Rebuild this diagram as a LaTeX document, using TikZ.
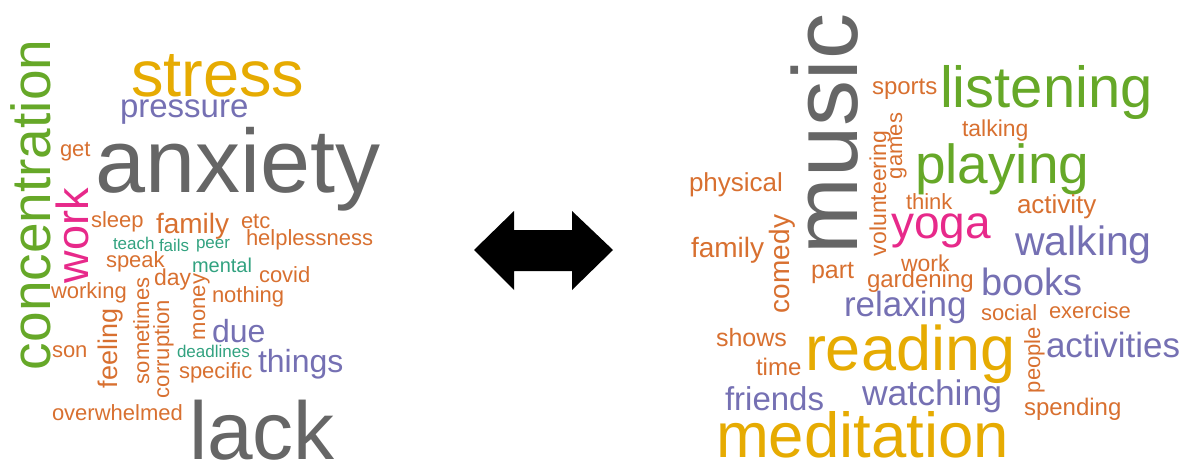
\documentclass[tikz,border=0pt]{standalone}
\usepackage{fontspec}
\setmainfont{Liberation Sans}
\usepackage{xcolor}
\definecolor{mygreen}{RGB}{102,168,40}
\definecolor{myorange}{RGB}{216,112,48}
\definecolor{mypurple}{HTML}{7570B3}
\definecolor{mypink}{HTML}{E7298A}
\definecolor{myteal}{RGB}{50,162,128}
\definecolor{mygold}{HTML}{E6AB02}
\definecolor{mygrey}{HTML}{666666}

\begin{document}
\begin{tikzpicture}[x=1pt,y=-1pt,
  wd/.style={inner sep=0pt, outer sep=0pt, anchor=base west, font=\fontsize{#1}{#1}\selectfont},
  up/.style={rotate=90}]
\useasboundingbox (0,0) rectangle (1198,465);

% left cloud
\node[wd=55, up, mygreen] (concentration) at (50,370) {concentration};
\node[wd=45, up, mypink] (workL) at (88,283) {work};
\node[wd=65, mygold] (stress) at (131,97) {stress};
\node[wd=33, mypurple] (pressure) at (120,118) {pressure};
\node[wd=22, myorange] (get) at (60,157) {get};
\node[wd=90, mygrey] (anxiety) at (95,193) {anxiety};
\node[wd=22, myorange] (sleep) at (91,227) {sleep};
\node[wd=28, myorange] (familyL) at (156,233) {family};
\node[wd=22, myorange] (etc) at (241,228) {etc};
\node[wd=22, myorange] (helplessness) at (246,245) {helplessness};
\node[wd=17, myteal] (teach) at (113,249) {teach};
\node[wd=17, myteal] (fails) at (159,251) {fails};
\node[wd=17, myteal] (peer) at (196,248) {peer};
\node[wd=22, myorange] (speak) at (106,267) {speak};
\node[wd=20, myteal] (mental) at (192,272) {mental};
\node[wd=22, myorange] (covid) at (259,282) {covid};
\node[wd=23, myorange] (day) at (154,285) {day};
\node[wd=22, myorange] (working) at (51,298) {working};
\node[wd=22, myorange] (nothing) at (212,302) {nothing};
\node[wd=22, up, myorange] (money) at (205,340) {money};
\node[wd=22, up, myorange] (sometimes) at (149,384) {sometimes};
\node[wd=27, up, myorange] (feeling) at (117,388) {feeling};
\node[wd=22, up, myorange] (corruption) at (169,398) {corruption};
\node[wd=22, myorange] (son) at (52,357) {son};
\node[wd=32, mypurple] (due) at (212,342) {due};
\node[wd=17, myteal] (deadlines) at (177,357) {deadlines};
\node[wd=32, mypurple] (things) at (258,372) {things};
\node[wd=22, myorange] (specific) at (179,378) {specific};
\node[wd=22, myorange] (overwhelmed) at (52,420) {overwhelmed};
\node[wd=82, mygrey] (lack) at (189,459) {lack};

% arrow
\fill (474,250) -- (514,211) -- (514,230) -- (572,230) -- (572,211) -- (613,250)
  -- (572,290) -- (572,271) -- (514,271) -- (514,290) -- cycle;

% right cloud
\node[wd=92, up, mygrey] (music) at (857,254) {music};
\node[wd=24, myorange] (sports) at (872,95) {sports};
\node[wd=58, mygreen] (listening) at (940,108) {listening};
\node[wd=22, up, myorange] (games) at (902,179) {games};
\node[wd=23, up, myorange] (volunteering) at (886,256) {volunteering};
\node[wd=23, myorange] (talking) at (962,137) {talking};
\node[wd=55, mygreen] (playing) at (915,183) {playing};
\node[wd=26, myorange] (physical) at (689,192) {physical};
\node[wd=22, myorange] (think) at (906,209) {think};
\node[wd=26, myorange] (activity) at (1017,213) {activity};
\node[wd=46, mypink] (yoga) at (891,238) {yoga};
\node[wd=41, mypurple] (walking) at (1015,255) {walking};
\node[wd=28, myorange] (familyR) at (691,257) {family};
\node[wd=28, up, myorange] (comedy) at (789,313) {comedy};
\node[wd=25, myorange] (part) at (811,278) {part};
\node[wd=23, myorange] (workR) at (901,271) {work};
\node[wd=24, myorange] (gardening) at (867,287) {gardening};
\node[wd=38, mypurple] (books) at (981,295) {books};
\node[wd=35, mypurple] (relaxing) at (844,316) {relaxing};
\node[wd=22, myorange] (social) at (981,320) {social};
\node[wd=22, myorange] (exercise) at (1049,318) {exercise};
\node[wd=25, myorange] (shows) at (716,346) {shows};
\node[wd=63, mygold] (reading) at (805,370) {reading};
\node[wd=22, up, myorange] (people) at (1040,393) {people};
\node[wd=35, mypurple] (activities) at (1046,357) {activities};
\node[wd=24, myorange] (time) at (756,375) {time};
\node[wd=33, mypurple] (friends) at (725,410) {friends};
\node[wd=35.5, mypurple] (watching) at (862,405) {watching};
\node[wd=24, myorange] (spending) at (1024,415) {spending};
\node[wd=63.5, mygold] (meditation) at (716,457) {meditation};
\end{tikzpicture}
\end{document}
